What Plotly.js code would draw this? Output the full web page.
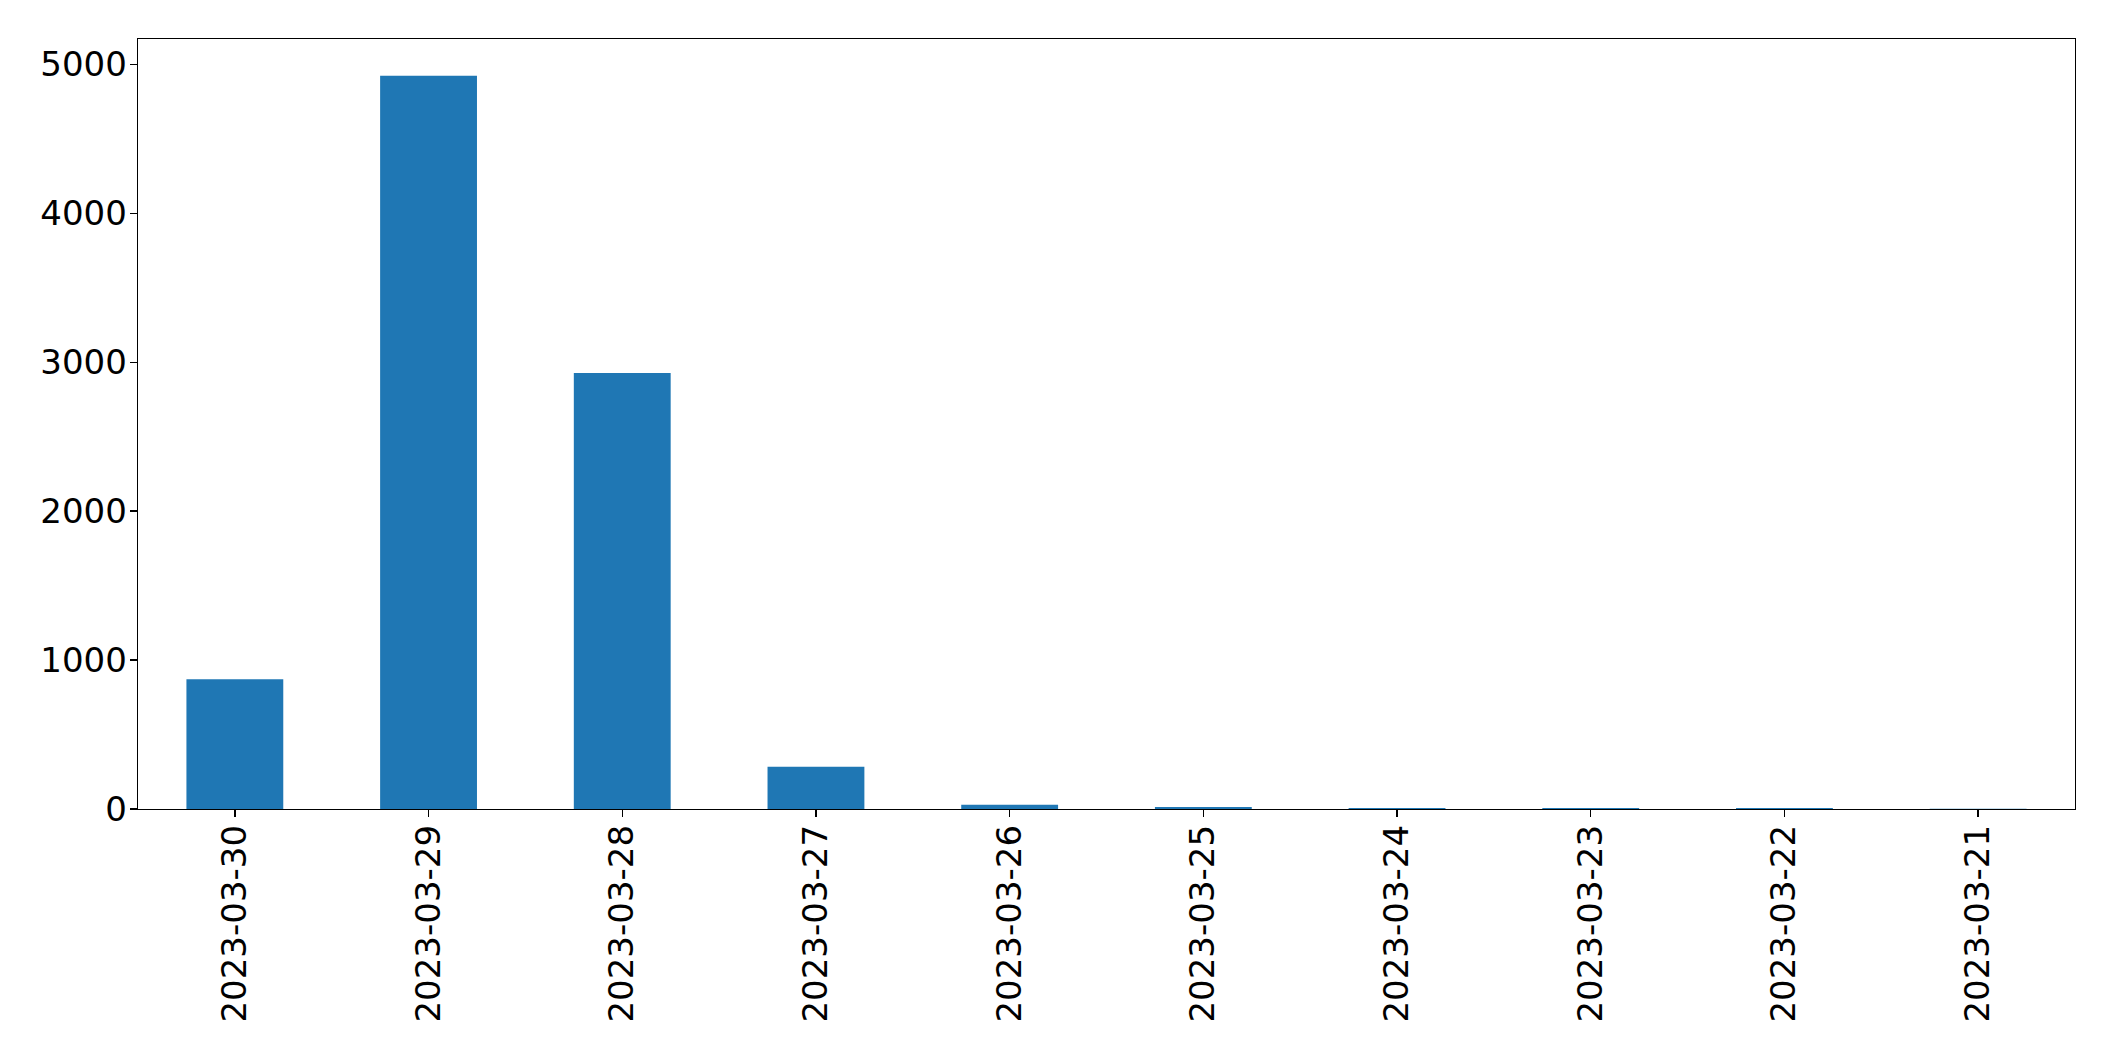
<!DOCTYPE html>
<html>
<head>
<meta charset="utf-8">
<script src="https://cdn.plot.ly/plotly-3.0.1.min.js"></script>
<style>
html, body { margin: 0; padding: 0; background: #ffffff; }
#chart { width: 2115px; height: 1061px; }
</style>
</head>
<body>
<div id="chart"></div>
<script>
const dates = ["2023-03-30", "2023-03-29", "2023-03-28", "2023-03-27", "2023-03-26",
               "2023-03-25", "2023-03-24", "2023-03-23", "2023-03-22", "2023-03-21"];
const counts = [872, 4923, 2928, 284, 29, 14, 7, 6, 6, 1];
const yTicks = [0, 1000, 2000, 3000, 4000, 5000];

const trace = {
  type: "bar",
  x: dates,
  y: counts,
  width: 0.5,
  marker: { color: "#1f77b4", line: { width: 0 } },
  hoverinfo: "x+y"
};

const axisFont = { family: "'DejaVu Sans'", size: 34, color: "#000000" };

const layout = {
  width: 2115,
  height: 1061,
  margin: { l: 137.6, r: 40.4, t: 39, b: 251.7, pad: 0 },
  paper_bgcolor: "#ffffff",
  plot_bgcolor: "#ffffff",
  showlegend: false,
  xaxis: {
    type: "category",
    range: [-0.5, 9.5],
    tickangle: -90,
    tickfont: axisFont,
    ticks: "outside",
    ticklen: 7,
    tickwidth: 1.35,
    tickcolor: "#000000",
    ticklabelstandoff: -6,
    showline: true,
    linecolor: "#000000",
    linewidth: 1.35,
    mirror: true,
    showgrid: false,
    zeroline: false,
    fixedrange: true
  },
  yaxis: {
    range: [0, 5170],
    tickmode: "array",
    tickvals: yTicks,
    ticktext: yTicks.map(String),
    tickfont: axisFont,
    ticks: "outside",
    ticklen: 7,
    tickwidth: 1.35,
    tickcolor: "#000000",
    ticklabelstandoff: -4,
    showline: true,
    linecolor: "#000000",
    linewidth: 1.35,
    mirror: true,
    showgrid: false,
    zeroline: false,
    fixedrange: true
  }
};

Plotly.newPlot("chart", [trace], layout, { displayModeBar: false, staticPlot: true });
</script>
</body>
</html>
